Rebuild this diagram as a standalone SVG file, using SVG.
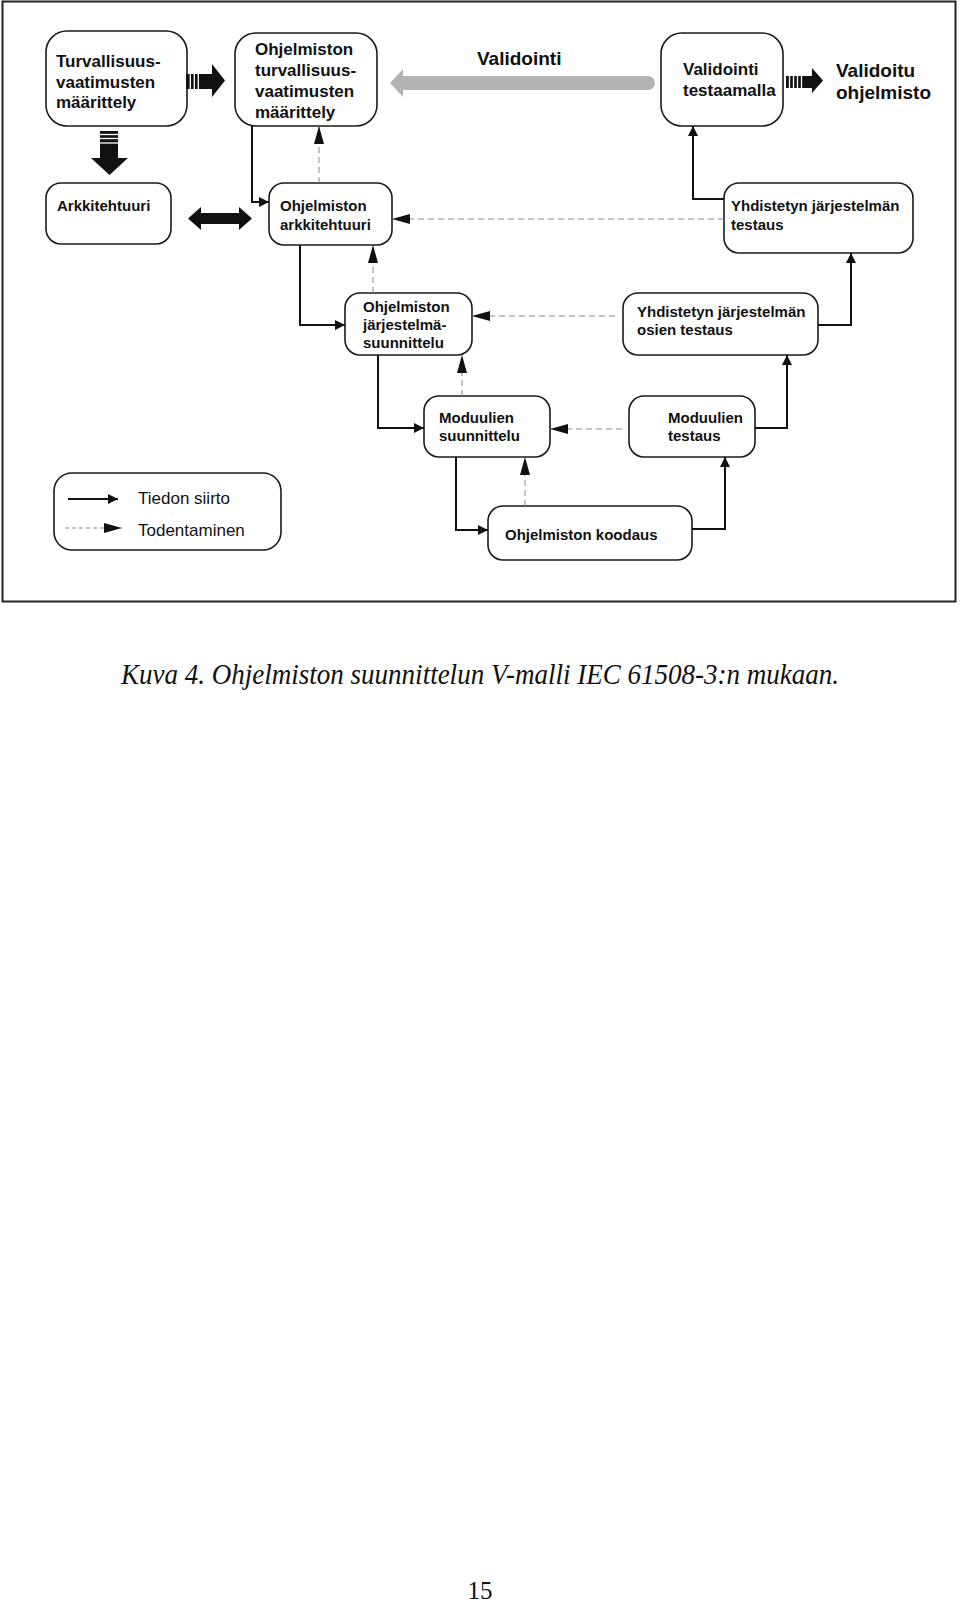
<svg xmlns="http://www.w3.org/2000/svg" width="960" height="1604" viewBox="0 0 960 1604">
<style>
.box{fill:#fff;stroke:#1a1a1a;stroke-width:1.6}
.t{font-family:"Liberation Sans",Arial,sans-serif;font-weight:bold;fill:#111}
.s15{font-size:15px}
.s17{font-size:17px}
.s19{font-size:19px}
.leg{font-family:"Liberation Sans",Arial,sans-serif;font-size:17px;fill:#111}
.solid{fill:none;stroke:#111;stroke-width:2;marker-end:url(#ah)}
.dash{fill:none;stroke:#888;stroke-width:1;stroke-dasharray:6 4;marker-end:url(#ahd)}
.blk{fill:#111}
.stripe{stroke:#fff;stroke-width:1.3}
</style>
<defs>
<marker id="ah" markerUnits="userSpaceOnUse" markerWidth="10" markerHeight="10" refX="10" refY="5" orient="auto"><path d="M0,0 L10,5 L0,10 Z" fill="#111"/></marker>
<marker id="ahd" markerUnits="userSpaceOnUse" markerWidth="18" markerHeight="10" refX="18" refY="5" orient="auto"><path d="M0,0 L18,5 L0,10 Z" fill="#111"/></marker>
</defs>
<rect width="960" height="1604" fill="#fff"/>
<rect x="2.5" y="1.5" width="953" height="600" fill="none" stroke="#222" stroke-width="2"/>

<g id="n1"><rect class="box" x="46" y="31" width="141" height="95" rx="21"/>
<text class="t s17" x="56" y="67">Turvallisuus-</text><text class="t s17" x="56" y="88">vaatimusten</text><text class="t s17" x="56" y="108">määrittely</text></g>

<g id="n2"><rect class="box" x="235" y="33" width="142" height="93" rx="21"/>
<text class="t s17" x="255" y="55">Ohjelmiston</text><text class="t s17" x="255" y="76">turvallisuus-</text><text class="t s17" x="255" y="97">vaatimusten</text><text class="t s17" x="255" y="118">määrittely</text></g>

<g id="validointi"><text class="t s19" x="477" y="65">Validointi</text>
<path d="M390,83 L403,69 L403,76 L648,76 A7,7 0 0 1 648,90 L403,90 L403,97 Z" fill="#b3b3b3"/></g>

<g id="n4"><rect class="box" x="661" y="33" width="122" height="93" rx="21"/>
<text class="t s17" x="683" y="75">Validointi</text><text class="t s17" x="683" y="95.5">testaamalla</text></g>

<g id="n5"><text class="t s19" x="836" y="77">Validoitu</text><text class="t s19" x="836" y="99">ohjelmisto</text></g>

<g id="bigarrows">
<rect class="blk" x="186" y="74" width="27" height="15"/><path class="blk" d="M212,64 L225,80.5 L212,97 Z"/>
<line class="stripe" x1="190.3" y1="74" x2="190.3" y2="89"/><line class="stripe" x1="194.3" y1="74" x2="194.3" y2="89"/><line class="stripe" x1="198.3" y1="74" x2="198.3" y2="89"/>
<rect class="blk" x="786" y="76" width="27" height="12"/><path class="blk" d="M812,68 L823,80.5 L812,93 Z"/>
<line class="stripe" x1="789.5" y1="76" x2="789.5" y2="88"/><line class="stripe" x1="793.5" y1="76" x2="793.5" y2="88"/><line class="stripe" x1="797.5" y1="76" x2="797.5" y2="88"/><line class="stripe" x1="801.5" y1="76" x2="801.5" y2="88"/>
<rect class="blk" x="100" y="131" width="18" height="28"/><path class="blk" d="M91,158 L128,158 L109.5,175 Z"/>
<line class="stripe" x1="100" y1="134.5" x2="118" y2="134.5"/><line class="stripe" x1="100" y1="138.5" x2="118" y2="138.5"/><line class="stripe" x1="100" y1="143" x2="118" y2="143"/>
<path class="blk" d="M188,218.5 L201,207 L201,213 L239,213 L239,207 L252,218.5 L239,230 L239,224 L201,224 L201,230 Z"/>
</g>

<g id="n6"><rect class="box" x="46" y="183" width="125" height="61" rx="15"/>
<text class="t s15" x="57" y="211">Arkkitehtuuri</text></g>

<g id="n7"><rect class="box" x="269" y="183" width="123" height="62" rx="15"/>
<text class="t s15" x="280" y="211">Ohjelmiston</text><text class="t s15" x="280" y="230">arkkitehtuuri</text></g>

<g id="n8"><rect class="box" x="724" y="183" width="189" height="70" rx="15"/>
<text class="t s15" x="731" y="211">Yhdistetyn järjestelmän</text><text class="t s15" x="731" y="230">testaus</text></g>

<g id="n9"><rect class="box" x="345" y="293" width="127" height="62" rx="15"/>
<text class="t s15" x="363" y="312">Ohjelmiston</text><text class="t s15" x="363" y="330">järjestelmä-</text><text class="t s15" x="363" y="348">suunnittelu</text></g>

<g id="n10"><rect class="box" x="623" y="293" width="195" height="62" rx="15"/>
<text class="t s15" x="637" y="316.5">Yhdistetyn järjestelmän</text><text class="t s15" x="637" y="335">osien testaus</text></g>

<g id="n11"><rect class="box" x="424" y="396" width="126" height="61" rx="15"/>
<text class="t s15" x="439" y="423">Moduulien</text><text class="t s15" x="439" y="441">suunnittelu</text></g>

<g id="n12"><rect class="box" x="629" y="396" width="126" height="61" rx="15"/>
<text class="t s15" x="668" y="423">Moduulien</text><text class="t s15" x="668" y="441">testaus</text></g>

<g id="n13"><rect class="box" x="488" y="506" width="204" height="54" rx="15"/>
<text class="t s15" x="505" y="540">Ohjelmiston koodaus</text></g>

<g id="legend"><rect class="box" x="54" y="473" width="227" height="77" rx="18"/>
<line x1="68" y1="499" x2="118" y2="499" stroke="#111" stroke-width="2" marker-end="url(#ah)"/>
<line x1="65" y1="528" x2="122" y2="528" stroke="#888" stroke-width="1" stroke-dasharray="4 3" marker-end="url(#ahd)"/>
<text class="leg" x="138" y="504">Tiedon siirto</text><text class="leg" x="138" y="536">Todentaminen</text></g>

<g id="connectors">
<path class="solid" d="M252,126 V202 H269"/>
<path class="solid" d="M300,245 V325 H345"/>
<path class="solid" d="M378,355 V428 H424"/>
<path class="solid" d="M456,457 V530 H488"/>
<path class="solid" d="M692,529 H725 V457"/>
<path class="solid" d="M755,428 H787 V355"/>
<path class="solid" d="M818,325 H851 V253"/>
<path class="solid" d="M724,199 H693 V126"/>
<path class="dash" d="M319,183 V126"/>
<path class="dash" d="M724,219 H392"/>
<path class="dash" d="M373,293 V245"/>
<path class="dash" d="M615,316 H472"/>
<path class="dash" d="M462,396 V355"/>
<path class="dash" d="M622,429 H550"/>
<path class="dash" d="M525,506 V457"/>
</g>

<text x="121" y="684" font-family="'Liberation Serif','Times New Roman',serif" font-style="italic" font-size="28.5" fill="#111" textLength="718" lengthAdjust="spacingAndGlyphs">Kuva 4. Ohjelmiston suunnittelun V-malli IEC 61508-3:n mukaan.</text>
<text x="480" y="1599" text-anchor="middle" font-family="'Liberation Serif','Times New Roman',serif" font-size="25" fill="#111">15</text>
</svg>
